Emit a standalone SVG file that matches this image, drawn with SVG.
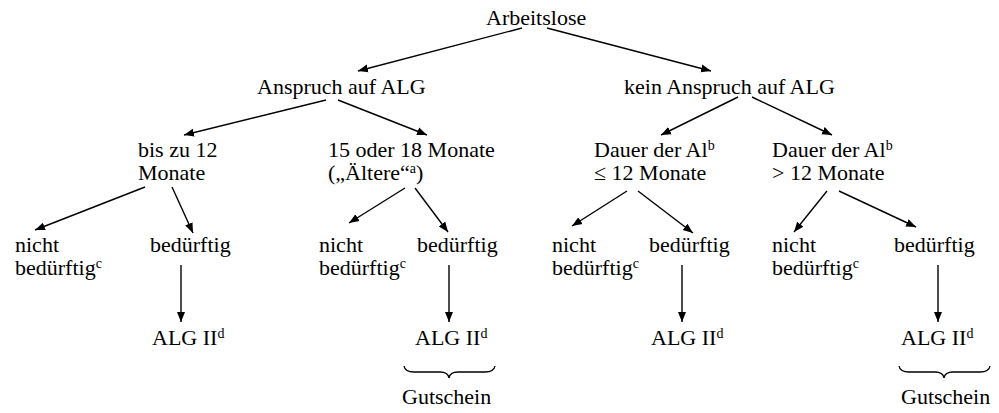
<svg xmlns="http://www.w3.org/2000/svg" width="999" height="413" viewBox="0 0 999 413">
<style>
text{font-family:"Liberation Serif","Times New Roman",serif;font-size:22px;fill:#000}
.sup{font-size:14px}
.c{stroke:#000;stroke-width:1.4;fill:none}
.br{stroke:#000;stroke-width:1.3;fill:none}
</style>
<defs>
<marker id="ah" viewBox="0 0 10 10" refX="10" refY="5" markerWidth="10" markerHeight="10" markerUnits="userSpaceOnUse" orient="auto">
<path d="M0,1 L10,5 L0,9 Z" fill="#000"/>
</marker>
</defs>
<rect width="999" height="413" fill="#fff"/>
<g id="connectors">
<line class="c" x1="522" y1="28" x2="358" y2="71" marker-end="url(#ah)"/>
<line class="c" x1="547" y1="28" x2="711" y2="71" marker-end="url(#ah)"/>
<line class="c" x1="326" y1="100" x2="184" y2="135" marker-end="url(#ah)"/>
<line class="c" x1="338" y1="100" x2="427" y2="135" marker-end="url(#ah)"/>
<line class="c" x1="738" y1="97" x2="661" y2="135" marker-end="url(#ah)"/>
<line class="c" x1="752" y1="97" x2="832" y2="135" marker-end="url(#ah)"/>
<line class="c" x1="145" y1="187" x2="35" y2="230" marker-end="url(#ah)"/>
<line class="c" x1="172" y1="187" x2="193" y2="233" marker-end="url(#ah)"/>
<line class="c" x1="405" y1="188" x2="349" y2="223" marker-end="url(#ah)"/>
<line class="c" x1="415" y1="188" x2="448" y2="232" marker-end="url(#ah)"/>
<line class="c" x1="627" y1="191" x2="572" y2="226" marker-end="url(#ah)"/>
<line class="c" x1="638" y1="191" x2="693" y2="233" marker-end="url(#ah)"/>
<line class="c" x1="827" y1="191" x2="794" y2="232" marker-end="url(#ah)"/>
<line class="c" x1="839" y1="191" x2="916" y2="227" marker-end="url(#ah)"/>
<line class="c" x1="181" y1="265" x2="181" y2="322" marker-end="url(#ah)"/>
<line class="c" x1="449" y1="265" x2="449" y2="322" marker-end="url(#ah)"/>
<line class="c" x1="682" y1="265" x2="682" y2="322" marker-end="url(#ah)"/>
<line class="c" x1="938" y1="265" x2="938" y2="322" marker-end="url(#ah)"/>
</g>
<g id="n-arbeitslose"><text x="486" y="25">Arbeitslose</text></g>
<g id="n-anspruch"><text x="257" y="94">Anspruch auf ALG</text></g>
<g id="n-kein"><text x="624" y="94">kein Anspruch auf ALG</text></g>
<g id="n-bis12"><text x="138" y="157">bis zu 12</text><text x="138" y="180">Monate</text></g>
<g id="n-1518"><text x="328" y="157">15 oder 18 Monate</text><text x="328" y="180">(„Ältere“<tspan class="sup" dy="-7">a</tspan><tspan dy="7">)</tspan></text></g>
<g id="n-dauer1"><text x="594" y="157">Dauer der Al<tspan class="sup" dy="-7">b</tspan></text><text x="594" y="180">≤ 12 Monate</text></g>
<g id="n-dauer2"><text x="772" y="157">Dauer der Al<tspan class="sup" dy="-7">b</tspan></text><text x="772" y="180">&gt; 12 Monate</text></g>
<g id="n-nb1"><text x="15" y="252">nicht</text><text x="15" y="275">bedürftig<tspan class="sup" dy="-7">c</tspan></text></g>
<g id="n-b1"><text x="150" y="252">bedürftig</text></g>
<g id="n-alg1"><text x="152" y="345">ALG II<tspan class="sup" dy="-7">d</tspan></text></g>
<g id="n-nb2"><text x="319" y="252">nicht</text><text x="319" y="275">bedürftig<tspan class="sup" dy="-7">c</tspan></text></g>
<g id="n-b2"><text x="417" y="252">bedürftig</text></g>
<g id="n-alg2"><text x="415" y="345">ALG II<tspan class="sup" dy="-7">d</tspan></text></g>
<g id="n-g2"><path class="br" d="M404,366 Q405,372 414,372 L440,372 Q448,372 449,378 Q450,372 458,372 L485,372 Q494,372 495,366"/><text x="402" y="404">Gutschein</text></g>
<g id="n-nb3"><text x="552" y="252">nicht</text><text x="552" y="275">bedürftig<tspan class="sup" dy="-7">c</tspan></text></g>
<g id="n-b3"><text x="649" y="252">bedürftig</text></g>
<g id="n-alg3"><text x="651" y="345">ALG II<tspan class="sup" dy="-7">d</tspan></text></g>
<g id="n-nb4"><text x="772" y="252">nicht</text><text x="772" y="275">bedürftig<tspan class="sup" dy="-7">c</tspan></text></g>
<g id="n-b4"><text x="894" y="252">bedürftig</text></g>
<g id="n-alg4"><text x="901" y="345">ALG II<tspan class="sup" dy="-7">d</tspan></text></g>
<g id="n-g4"><path class="br" d="M899,366 Q900,372 909,372 L935,372 Q943,372 944,378 Q945,372 953,372 L980,372 Q989,372 990,366"/><text x="901" y="404">Gutschein</text></g>
</svg>
